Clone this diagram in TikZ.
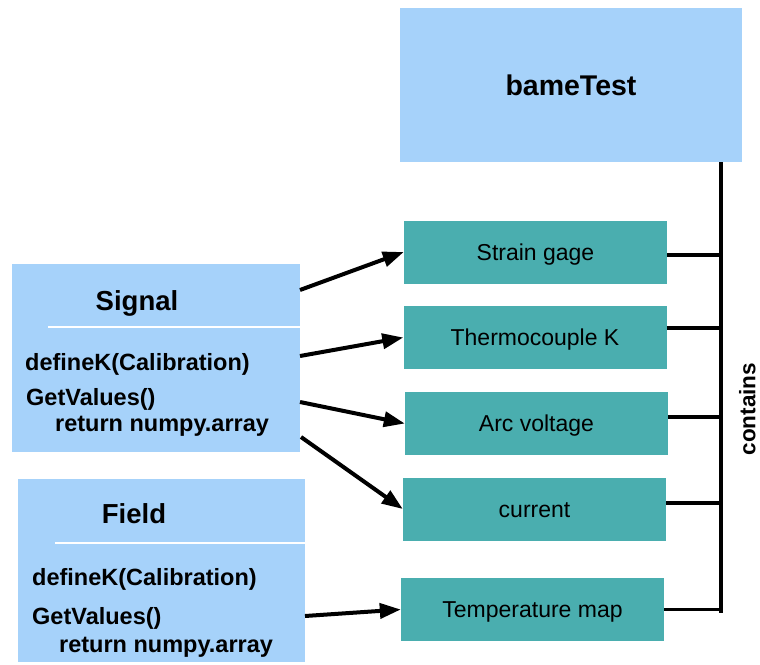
\documentclass[tikz,border=0pt]{standalone}
\usepackage{fontspec}
\setmainfont{Liberation Sans}
\usetikzlibrary{arrows.meta}
\definecolor{lblue}{RGB}{166,210,250}
\definecolor{teal2}{RGB}{74,174,175}
\begin{document}
\begin{tikzpicture}[x=1pt,y=-1pt,
  classbox/.style={fill=lblue,draw=none,inner sep=0pt,minimum width=#1},
  item/.style={fill=teal2,draw=none,inner sep=0pt,minimum width=263pt,minimum height=63pt,
    font=\fontsize{23}{26}\selectfont,text height=16.5pt,text depth=0pt},
  titletext/.style={font=\fontsize{27.5}{30}\selectfont\bfseries,inner sep=0pt,text height=19.8pt,text depth=0pt},
  linetext/.style={font=\fontsize{23.5}{26}\selectfont\bfseries,inner sep=0pt,anchor=base west},
  arr/.style={line width=4pt,-{Triangle[length=21pt,width=15pt]}},
  link/.style={line width=3.5pt},
  sep/.style={draw=white,line width=2.5pt}]
\useasboundingbox (0,0) rectangle (760,664);
% top container
\node[fill=lblue,inner sep=0pt,minimum width=342pt,minimum height=154pt,
  font=\fontsize{28.5}{30}\selectfont\bfseries,text height=20.4pt,text depth=0pt] (bame) at (571,85) {bameTest};
% items
\node[item] (sg)  at (535.5,252)   {Strain gage};
\node[item] (tc)  at (535,337.5)   {Thermocouple K};
\node[item] (av)  at (536.5,423.5) {Arc voltage};
\node[item] (cur) at (534.5,509)   {current};
\node[item] (tm)  at (532.5,609.5) {Temperature map};
% Signal class
\node[classbox=288pt,minimum height=188pt] (sig) at (156,358) {};
\draw[sep] (48,327) coordinate (sigsepL) -- (sigsepL -| sig.east);
\node[titletext] (sigt) at (137,301) {Signal};
\node[linetext] (sig1) at (25,370) {defineK(Calibration)};
\node[linetext] (sig2) at (26,405) {GetValues()};
\node[linetext] (sig3) at (55,431) {return numpy.array};
% Field class
\node[classbox=287pt,minimum height=183pt] (fld) at (161.5,570.5) {};
\draw[sep] (55,543) coordinate (fldsepL) -- (fldsepL -| fld.east);
\node[titletext] (fldt) at (134,514) {Field};
\node[linetext] (fld1) at (32,585) {defineK(Calibration)};
\node[linetext] (fld2) at (32,624) {GetValues()};
\node[linetext] (fld3) at (59,652) {return numpy.array};
% arrow start points on class boxes
\coordinate (s1) at (300,290);
\coordinate (s2) at (300,356);
\coordinate (s3) at (300,402);
\coordinate (s4) at (301,437);
\coordinate (f1) at (305,616);
\draw[arr] (s1) -- (sg.west);
\draw[arr] (s2) -- (tc.west);
\draw[arr] (s3) -- (av.west);
\draw[arr] (s4) -- (cur.west);
\draw[arr] (f1) -- (tm.west);
% containment bus
\coordinate (bustop) at (721,162);
\coordinate (busbot) at (721,613);
\draw[line width=4pt] (bustop) -- (busbot);
\draw[link] ([yshift=-3pt]sg.east) -- ([yshift=-3pt]sg.east -| bustop);
\draw[link] ([yshift=9.5pt]tc.east) -- ([yshift=9.5pt]tc.east -| bustop);
\draw[link] ([yshift=6.5pt]av.east) -- ([yshift=6.5pt]av.east -| bustop);
\draw[link] ([yshift=6pt]cur.east) -- ([yshift=6pt]cur.east -| bustop);
\draw[link] (tm.east) -- (tm.east -| bustop);
\node[rotate=90,anchor=south,font=\fontsize{22.5}{25}\selectfont\bfseries,inner sep=0pt,text depth=0pt] (cont) at (755.5,409) {contains};
\end{tikzpicture}
\end{document}
